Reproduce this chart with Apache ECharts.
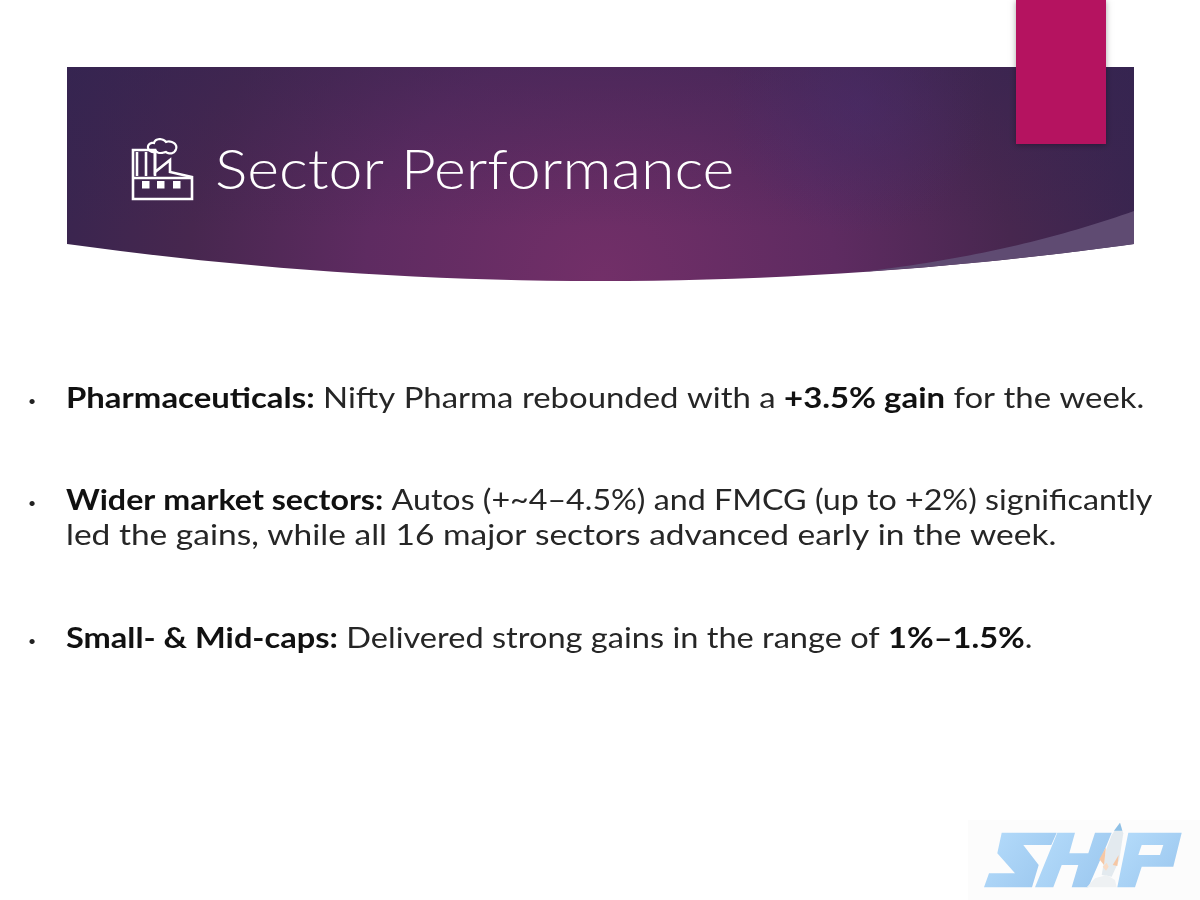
<!DOCTYPE html>
<html><head><meta charset="utf-8">
<style>html,body{margin:0;padding:0;background:#fff}#c{width:1200px;height:900px}</style>
<script src="https://cdn.jsdelivr.net/npm/echarts@6/dist/echarts.min.js"></script>
</head><body><div id="c"></div>
<script>
const titleText = 'Sector Performance';
const bulletFlags = [true, true, false, true];
const line1 = [['Pharmaceuticals:', 1], [' Nifty Pharma rebounded with a ', 0], ['+3.5% gain', 1], [' for the week.', 0]];
const line2 = [['Wider market sectors:', 1], [' Autos (+~4–4.5%) and FMCG (up to +2%) significantly', 0]];
const line3 = [['led the gains, while all 16 major sectors advanced early in the week.', 0]];
const line4 = [['Small- & Mid-caps:', 1], [' Delivered strong gains in the range of ', 0], ['1%–1.5%', 1], ['.', 0]];
const bodyLines = [line1, line2, line3, line4];
const lineY = [399, 501, 536, 639];
const lineStretch = [1.175, 1.150, 1.196, 1.163];
const bannerPath = 'M67 67 L1134 67 L1134 244 Q600 318 67 244 Z';
const wedgePath = 'M860 272 Q1010 255 1134 211 L1134 244 Q997 263 860 272 Z';
const BODY_FONT = 'Lato';
const BODY_SIZE = 28;

function flatten(d){
  const t=d.trim().split(/\s+|(?=[MLQCZ])|(?<=[MLQCZ])/).filter(Boolean);
  const pts=[];let i=0,cmd='',cx=0,cy=0,closed=false;
  const num=()=>parseFloat(t[i++]);
  while(i<t.length){
    if(/[MLQCZ]/.test(t[i])){cmd=t[i++];}
    if(cmd==='Z'){closed=true;continue;}
    if(cmd==='M'||cmd==='L'){cx=num();cy=num();pts.push([cx,cy]);}
    else if(cmd==='Q'){const a=num(),b=num(),x=num(),y=num();
      for(let k=1;k<=40;k++){const u=k/40,v=1-u;pts.push([v*v*cx+2*u*v*a+u*u*x,v*v*cy+2*u*v*b+u*u*y]);}
      cx=x;cy=y;}
    else if(cmd==='C'){const a=num(),b=num(),e=num(),f=num(),x=num(),y=num();
      for(let k=1;k<=16;k++){const u=k/16,v=1-u;pts.push([v*v*v*cx+3*u*v*v*a+3*u*u*v*e+u*u*u*x,v*v*v*cy+3*u*v*v*b+3*u*u*v*f+u*u*u*y]);}
      cx=x;cy=y;}
  }
  return {pts,closed};
}
function pathEl(d, style){ const f=flatten(d); return {type:f.closed?'polygon':'polyline', shape:{points:f.pts}, style}; }
function lz(pts){ // logo points, measured in a 3x crop whose origin is (960,810)
  return 'M' + pts.map(p => (960+p[0]/3).toFixed(1)+' '+(810+p[1]/3).toFixed(1)).join(' L') + ' Z';
}
const elements = [];
elements.push(pathEl(bannerPath, {fill:{type:'radial',x:0.5,y:1,r:2.75,colorStops:[
  {offset:0,color:'#722f68'},{offset:0.4,color:'#5e2b61'},{offset:0.7,color:'#47274f'},{offset:1,color:'#35244f'}]}}));
elements.push(pathEl(bannerPath, {fill:{type:'linear',x:0,y:0,x2:0,y2:1,colorStops:[
  {offset:0,color:'rgba(52,36,82,0.42)'},{offset:0.75,color:'rgba(52,36,82,0)'}]}}));
elements.push({type:'circle',shape:{cx:858,cy:105,r:130},style:{fill:{type:'radial',x:0.5,y:0.5,r:0.5,colorStops:[
  {offset:0,color:'rgba(72,45,110,0.45)'},{offset:1,color:'rgba(72,45,110,0)'}]}}});
elements.push({type:'rect',shape:{x:700,y:0,width:330,height:67},style:{fill:'#fff'}});
elements.push(pathEl(wedgePath,{fill:'#5f4b72'}));
elements.push({type:'rect',shape:{x:1016,y:0,width:90,height:144},style:{fill:'#b51360',shadowBlur:6,shadowColor:'rgba(0,0,0,0.35)',shadowOffsetY:1}});
// title
elements.push({type:'text',x:215,y:171,scaleX:1.088,style:{text:titleText,x:0,y:0,verticalAlign:'middle',fill:'#fff',font:'300 56px Lato'}});
// factory icon
const W={stroke:'#fff',lineWidth:2.6,fill:'none',lineJoin:'miter'};
elements.push(pathEl('M133 199 L133 150 L155 150 L155 172 L170 160 L170 172 L192 177 L192 199 Z',W));
elements.push(pathEl('M133 178 L192 178',W));
elements.push(pathEl('M137 152 L137 176',W));
elements.push(pathEl('M146 152 L146 176',W));
elements.push(pathEl('M155 150 L155 176',W));
elements.push(pathEl('M149 150 C146 146 150 142 154 143 C155 138 163 138 166 142 C171 140 178 144 176 149 C175 153 170 155 166 152 C162 153 158 154 156 151 C154 153 151 152 149 150 Z',{stroke:'#fff',lineWidth:2.2,fill:'none'}));
[146,161,177].forEach(x=>elements.push({type:'rect',shape:{x:x-4,y:181,width:7.5,height:7.5},style:{fill:'#fff'}}));
// body
bodyLines.forEach((segs,i)=>{
  const y=lineY[i];
  if(bulletFlags[i]) elements.push({type:'text',style:{text:'•',x:32,y:y+2,align:'center',verticalAlign:'middle',fill:'#222',font:'14px Lato'}});
  const txt=segs.map(s=>'{'+(s[1]?'b':'n')+'|'+s[0]+'}').join('');
  elements.push({type:'text',x:66,y:y,scaleX:lineStretch[i],style:{text:txt,x:0,y:0,verticalAlign:'middle',rich:{
    n:{fontFamily:BODY_FONT,fontSize:BODY_SIZE,fill:'#262626'},
    b:{fontFamily:BODY_FONT,fontSize:BODY_SIZE,fontWeight:'bold',fill:'#111'}}}});
});
// logo
elements.push({type:'rect',shape:{x:968,y:820,width:232,height:80},style:{fill:'#fcfcfc'}});
const blue={type:'linear',x:0,y:0,x2:1,y2:1,colorStops:[{offset:0,color:'#b5dcfb'},{offset:1,color:'#9ac6ee'}]};
elements.push(pathEl(lz([[125,68],[290,68],[274,105],[190,105],[236,165],[216,232],[72,232],[87,190],[165,190],[112,130]]),{fill:blue}));
elements.push(pathEl(lz([[292,68],[345,68],[328,130],[385,130],[405,68],[455,68],[440,105],[385,232],[335,232],[355,165],[305,165],[280,232],[225,232]]),{fill:blue}));
elements.push(pathEl(lz([[505,68],[665,68],[640,170],[545,170],[525,232],[472,232]]),{fill:blue}));
elements.push(pathEl(lz([[545,105],[610,105],[600,135],[535,135]]),{fill:'#fcfcfc'}));
elements.push(pathEl(lz([[480,38],[490,70],[478,150],[455,200],[425,195],[438,120],[455,75]]),{fill:'#e3eaef'}));
elements.push(pathEl(lz([[480,38],[487,62],[462,62]]),{fill:'#8ec0e6'}));
elements.push(pathEl(lz([[380,232],[405,205],[440,195],[465,210],[470,232]]),{fill:'#eef1f3'}));
elements.push(pathEl(lz([[438,112],[418,148],[432,165]]),{fill:'#f6c7a4'}));
elements.push(pathEl(lz([[476,135],[472,168],[458,165]]),{fill:'#f6c7a4'}));
elements.push(pathEl(lz([[440,158],[428,170],[438,182],[446,170]]),{fill:'#f9dcc6'}));
const chart=echarts.init(document.getElementById('c'),null,{renderer:'canvas'});
chart.setOption({animation:false,backgroundColor:'#fff',graphic:{elements}});
</script></body></html>
